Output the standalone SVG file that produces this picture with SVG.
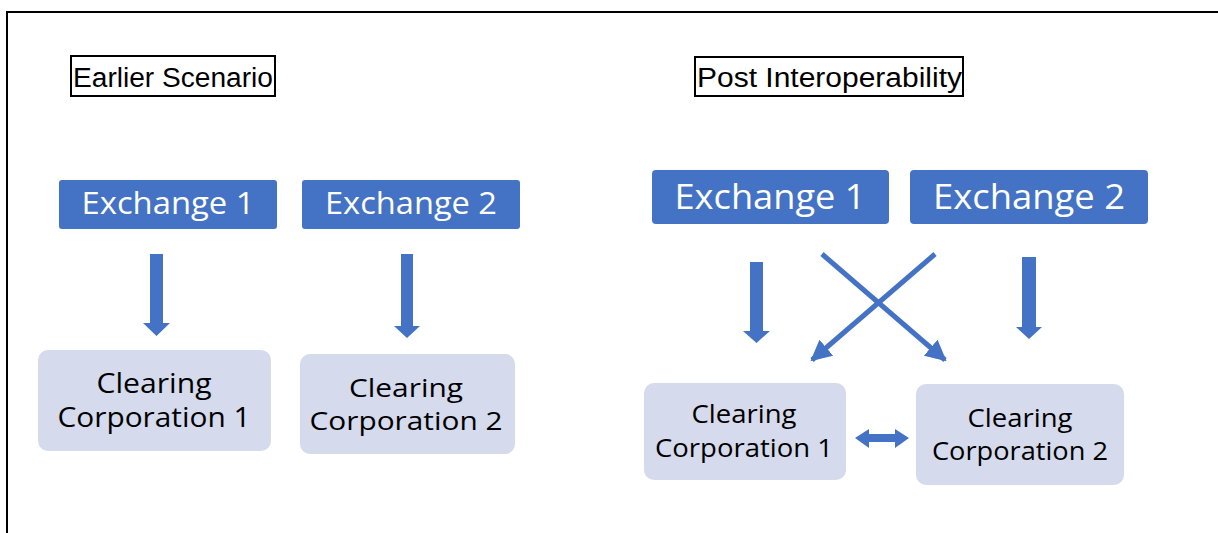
<svg xmlns="http://www.w3.org/2000/svg" width="1218" height="533" viewBox="0 0 1218 533">
<defs>
<style>
.frame{fill:none;stroke:#000;stroke-width:2}
.title{font-family:"Liberation Sans",Arial,sans-serif;font-size:27px;fill:#000}
.tbox{fill:#fff;stroke:#000;stroke-width:2}
.ex{fill:#4472C4}
.ext{font-family:"Open Sans","Noto Sans",sans-serif;fill:#fff;text-anchor:middle}
.cc{fill:#D5DAEC}
.cct{font-family:"Open Sans","Noto Sans",sans-serif;fill:#000;text-anchor:middle}
.arr{fill:#4472C4}
.diag{stroke:#4472C4;stroke-width:5;fill:none}
</style>
<marker id="ah" viewBox="0 0 10 10" refX="9" refY="5" markerWidth="4.2" markerHeight="4.2" orient="auto" markerUnits="strokeWidth">
<path d="M0,0 L10,5 L0,10 z" fill="#4472C4"/>
</marker>
</defs>
<rect width="1218" height="533" fill="#fff"/>
<path class="frame" d="M7,533 L7,12 L1218,12"/>

<g id="title-earlier">
<rect class="tbox" x="71" y="56" width="204" height="40"/>
<text class="title" x="73" y="87" textLength="200" lengthAdjust="spacingAndGlyphs">Earlier Scenario</text>
</g>
<g id="title-post">
<rect class="tbox" x="695" y="57" width="268" height="39"/>
<text class="title" x="697" y="87" textLength="265" lengthAdjust="spacingAndGlyphs">Post Interoperability</text>
</g>

<g id="l-ex1">
<rect class="ex" x="59" y="180" width="218" height="49" rx="3"/>
<text class="ext" x="168" y="214" font-size="31" textLength="173" lengthAdjust="spacingAndGlyphs">Exchange 1</text>
</g>
<g id="l-ex2">
<rect class="ex" x="302" y="180" width="218" height="49" rx="3"/>
<text class="ext" x="411" y="214" font-size="31" textLength="172" lengthAdjust="spacingAndGlyphs">Exchange 2</text>
</g>
<g id="l-cc1">
<rect class="cc" x="38" y="350" width="233" height="101" rx="10"/>
<text class="cct" x="154" y="393" font-size="27" textLength="115" lengthAdjust="spacingAndGlyphs">Clearing</text>
<text class="cct" x="154" y="427" font-size="27" textLength="193" lengthAdjust="spacingAndGlyphs">Corporation 1</text>
</g>
<g id="l-cc2">
<rect class="cc" x="300" y="354" width="215" height="100" rx="10"/>
<text class="cct" x="406" y="397" font-size="26" textLength="114" lengthAdjust="spacingAndGlyphs">Clearing</text>
<text class="cct" x="406" y="430" font-size="26" textLength="193" lengthAdjust="spacingAndGlyphs">Corporation 2</text>
</g>

<g id="r-ex1">
<rect class="ex" x="652" y="170" width="237" height="54" rx="4"/>
<text class="ext" x="770" y="209" font-size="35" textLength="191" lengthAdjust="spacingAndGlyphs">Exchange 1</text>
</g>
<g id="r-ex2">
<rect class="ex" x="910" y="170" width="238" height="54" rx="4"/>
<text class="ext" x="1029" y="209" font-size="35" textLength="192" lengthAdjust="spacingAndGlyphs">Exchange 2</text>
</g>
<g id="r-cc1">
<rect class="cc" x="644" y="383" width="202" height="97" rx="10"/>
<text class="cct" x="744" y="423" font-size="26" textLength="105" lengthAdjust="spacingAndGlyphs">Clearing</text>
<text class="cct" x="744" y="457" font-size="26" textLength="178" lengthAdjust="spacingAndGlyphs">Corporation 1</text>
</g>
<g id="r-cc2">
<rect class="cc" x="916" y="384" width="208" height="101" rx="10"/>
<text class="cct" x="1020" y="427" font-size="26" textLength="105" lengthAdjust="spacingAndGlyphs">Clearing</text>
<text class="cct" x="1020" y="460" font-size="26" textLength="176" lengthAdjust="spacingAndGlyphs">Corporation 2</text>
</g>

<g id="connectors">
<path class="arr" d="M150,254 L163,254 L163,323 L170,323 L156.5,336 L143,323 L150,323 z"/>
<path class="arr" d="M401,254 L413,254 L413,326 L420,326 L407,338 L394,326 L401,326 z"/>
<path class="arr" d="M750,262 L763,262 L763,331 L770,331 L756.5,343 L743,331 L750,331 z"/>
<path class="arr" d="M1022,257 L1036,257 L1036,327 L1042,327 L1029,339 L1016,327 L1022,327 z"/>
<line class="diag" x1="822" y1="254" x2="945" y2="360" marker-end="url(#ah)"/>
<line class="diag" x1="935" y1="254" x2="812" y2="360" marker-end="url(#ah)"/>
<path class="arr" d="M855,438 L869,429 L869,434 L895,434 L895,429 L909,438 L895,448 L895,442 L869,442 L869,448 z"/>
</g>
</svg>
